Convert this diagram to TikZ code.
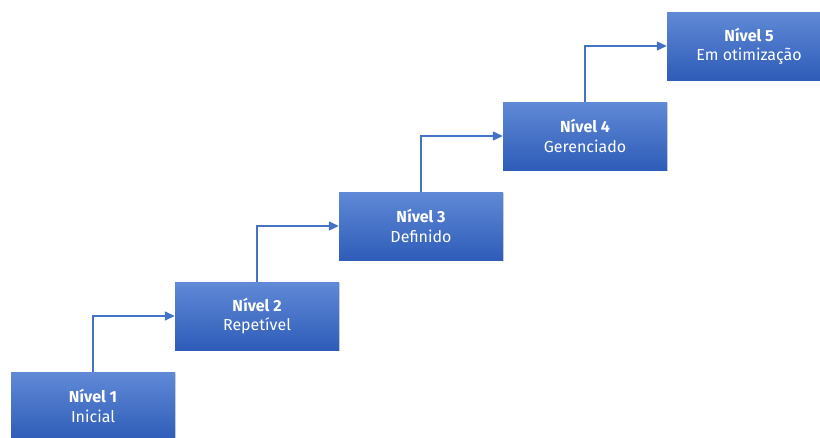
\documentclass[tikz,border=0pt]{standalone}
\usepackage{fontspec}
\setmainfont{Fira Sans}
\usetikzlibrary{arrows.meta,shadows}
\definecolor{boxtop}{RGB}{96,137,214}
\definecolor{boxbot}{RGB}{46,92,184}
\definecolor{linkblue}{RGB}{68,114,196}
\tikzset{
  level/.style={rectangle, minimum width=164pt, minimum height=68pt,
    inner sep=0pt, top color=boxtop, bottom color=boxbot,
    draw=none, text=white, align=center, font=\fontsize{16}{19.5}\selectfont,
    drop shadow={shadow xshift=1.2pt, shadow yshift=-1.2pt, opacity=0.25, fill=black!60}},
  link/.style={draw=linkblue, line width=1.4pt,
    -{Triangle[length=10pt,width=9pt]}}
}
\begin{document}
\begin{tikzpicture}[x=1pt,y=-1pt]
  \useasboundingbox (0,0) rectangle (820,437);
  \clip (0,0) rectangle (820,437);
  \node[level] (n1) at (93,406) {\textbf{Nível 1}\\Inicial};
  \node[level] (n2) at (257,316) {\textbf{Nível 2}\\Repetível};
  \node[level] (n3) at (421,226) {\textbf{Nível 3}\\Definido};
  \node[level] (n4) at (585,136) {\textbf{Nível 4}\\Gerenciado};
  \node[level] (n5) at (749,46) {\textbf{Nível 5}\\Em otimização};
  \draw[link] (n1.north) |- (n2.west);
  \draw[link] (n2.north) |- (n3.west);
  \draw[link] (n3.north) |- (n4.west);
  \draw[link] (n4.north) |- (n5.west);
\end{tikzpicture}
\end{document}
